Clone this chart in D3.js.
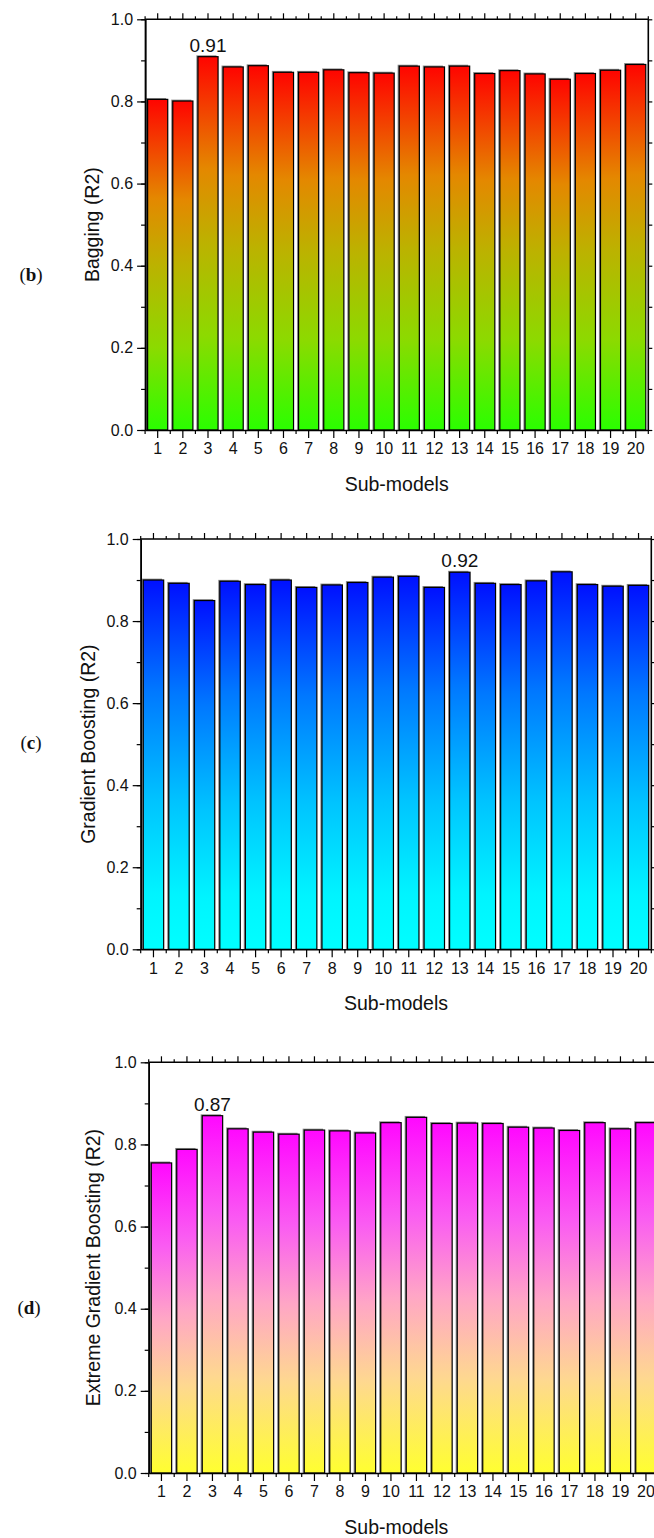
<!DOCTYPE html>
<html>
<head>
<meta charset="utf-8">
<script src="https://cdn.jsdelivr.net/npm/d3@7"></script>
<style>
  html, body { margin: 0; padding: 0; background: #fff; }
  svg { display: block; }
  text { font-family: "Liberation Sans", Arial, sans-serif; fill: #111; }
</style>
</head>
<body>
<div id="chart"></div>
<script>
// ---------------- data ----------------
const subModels = ["1","2","3","4","5","6","7","8","9","10","11","12","13","14","15","16","17","18","19","20"];
const baggingR2 = [0.805,0.801,0.909,0.884,0.887,0.871,0.871,0.877,0.870,0.869,0.886,0.884,0.886,0.868,0.875,0.867,0.854,0.868,0.876,0.890];
const gradBoostR2 = [0.900,0.892,0.850,0.897,0.889,0.900,0.882,0.888,0.894,0.907,0.909,0.882,0.919,0.892,0.889,0.898,0.920,0.889,0.885,0.887];
const xgbR2 = [0.755,0.788,0.870,0.838,0.830,0.825,0.835,0.833,0.828,0.853,0.866,0.851,0.852,0.851,0.842,0.840,0.834,0.853,0.838,0.853];
const yTickValues = [0.0,0.2,0.4,0.6,0.8,1.0];
const yTickLabels = ["0.0","0.2","0.4","0.6","0.8","1.0"];
const panelLetters = ["b","c","d"];
const yTitles = ["Bagging (R2)","Gradient Boosting (R2)","Extreme Gradient Boosting (R2)"];
const xTitle = "Sub-models";
const annotIndex = [2, 12, 2];
const annotText = ["0.91","0.92","0.87"];

// ---------------- layout / style ----------------
const W = 654, H = 1538;
const svg = d3.select("#chart").append("svg").attr("width", W).attr("height", H);
svg.append("rect").attr("width", W).attr("height", H).attr("fill", "#fff");

const layouts = [
  {left:145.1, right:648.3, top:19.3, bottom:430, titleX:92, letterX:31, letterY:281},
  {left:140.7, right:651.3, top:539, bottom:949.3, titleX:88, letterX:31, letterY:749},
  {left:148.7, right:658.7, top:1062.3, bottom:1473, titleX:93, letterX:29, letterY:1314}
];
const gradStops = [
  [[0,"#ff0400"],[0.3,"#e48800"],[0.5,"#bcb200"],[0.75,"#8cda00"],[1,"#2aff00"]],
  [[0,"#0010ff"],[0.3,"#0078ff"],[0.6,"#00c4ff"],[0.85,"#00f4ff"],[1,"#00ffff"]],
  [[0,"#ff08ff"],[0.27,"#fa5cf2"],[0.5,"#ffa6c6"],[0.73,"#fed890"],[1,"#ffff30"]]
];
const seriesList = [baggingR2, gradBoostR2, xgbR2];

const defs = svg.append("defs");

seriesList.forEach((vals, p) => {
  const L = layouts[p];
  const g = svg.append("g");
  const data = subModels.map((c, i) => ({c, v: vals[i]}));

  const x = d3.scaleBand().domain(subModels).range([L.left, L.right])
    .paddingInner(0.2).paddingOuter(0.1);
  const y = d3.scaleLinear().domain([0, 1]).range([L.bottom, L.top]);

  const gid = "grad" + p;
  const lg = defs.append("linearGradient").attr("id", gid)
    .attr("x1", 0).attr("y1", 0).attr("x2", 0).attr("y2", 1);
  gradStops[p].forEach(s => lg.append("stop").attr("offset", s[0]).attr("stop-color", s[1]));

  // shadows
  g.selectAll("rect.sh").data(data).enter().append("rect").attr("class","sh")
    .attr("x", d => x(d.c) - 1.6)
    .attr("y", d => y(d.v) - 1.4)
    .attr("width", x.bandwidth())
    .attr("height", d => y(0) - y(d.v) + 1.4)
    .attr("fill", "#8c8c8c");
  // bars
  g.selectAll("rect.bar").data(data).enter().append("rect").attr("class","bar")
    .attr("x", d => x(d.c))
    .attr("y", d => y(d.v))
    .attr("width", x.bandwidth())
    .attr("height", d => y(0) - y(d.v))
    .attr("fill", `url(#${gid})`)
    .attr("stroke", "#000").attr("stroke-width", 1.2);

  // frame
  const frame = g.append("g");
  frame.append("line").attr("x1", L.left).attr("x2", L.right).attr("y1", L.top).attr("y2", L.top);
  frame.append("line").attr("x1", L.right).attr("x2", L.right).attr("y1", L.top).attr("y2", L.bottom);
  frame.selectAll("line").attr("stroke", "#000").attr("stroke-width", 1.6);

  // left axis: major + minor
  const yMinor = d3.range(0, 11).map(i => i / 10);
  const leftMinor = g.append("g").attr("transform", `translate(${L.left},0)`)
    .call(d3.axisLeft(y).tickValues(yMinor).tickSize(4).tickSizeOuter(0).tickFormat(""));
  const leftAx = g.append("g").attr("transform", `translate(${L.left},0)`)
    .call(d3.axisLeft(y).tickValues(yTickValues).tickSize(8).tickPadding(4).tickSizeOuter(0)
      .tickFormat((d, i) => yTickLabels[i]));
  // right axis ticks
  const rightAx = g.append("g").attr("transform", `translate(${L.right},0)`)
    .call(d3.axisRight(y).tickValues(yMinor).tickSize(4).tickSizeOuter(0).tickFormat(""));

  // bottom axis
  const bottomAx = g.append("g").attr("transform", `translate(0,${L.bottom})`)
    .call(d3.axisBottom(x).tickSize(8).tickPadding(5).tickSizeOuter(0));
  const edges = d3.range(0, subModels.length + 1).map(i => x.range()[0] + i * x.step());
  g.append("g").selectAll("line").data(edges).enter().append("line")
    .attr("x1", d => d).attr("x2", d => d).attr("y1", L.bottom).attr("y2", L.bottom + 4)
    .attr("stroke", "#000").attr("stroke-width", 1.2);
  // top axis
  const topAx = g.append("g").attr("transform", `translate(0,${L.top})`)
    .call(d3.axisTop(x).tickSize(6).tickSizeOuter(0).tickFormat(""));
  g.append("g").selectAll("line").data(edges).enter().append("line")
    .attr("x1", d => d).attr("x2", d => d).attr("y1", L.top).attr("y2", L.top - 3)
    .attr("stroke", "#000").attr("stroke-width", 1.2);

  [leftMinor, leftAx, rightAx, bottomAx, topAx].forEach(a => {
    a.selectAll("path.domain").attr("stroke", "#000").attr("stroke-width", 1.6);
    a.selectAll(".tick line").attr("stroke", "#000").attr("stroke-width", 1.2);
    a.selectAll(".tick text").attr("font-size", 16).attr("fill", "#111")
      .attr("font-family", '"Liberation Sans", Arial, sans-serif');
  });
  topAx.select("path.domain").remove();
  rightAx.select("path.domain").remove();

  // annotation
  const ai = annotIndex[p];
  g.append("text")
    .attr("x", x(subModels[ai]) + x.bandwidth() / 2)
    .attr("y", y(vals[ai]) - 5)
    .attr("text-anchor", "middle").attr("font-size", 19)
    .text(annotText[p]);

  // axis titles
  g.append("text")
    .attr("x", (L.left + Math.min(L.right, W)) / 2 + (p === 2 ? -5 : 0))
    .attr("y", L.bottom + 61)
    .attr("text-anchor", "middle").attr("font-size", 19.5)
    .text(xTitle);
  g.append("text")
    .attr("transform", `translate(${L.titleX + 7},${(L.top + L.bottom) / 2}) rotate(-90)`)
    .attr("text-anchor", "middle").attr("font-size", 19.5)
    .text(yTitles[p]);

  // panel letter
  const lt = g.append("text").attr("x", L.letterX).attr("y", L.letterY)
    .attr("text-anchor", "middle").attr("font-size", 19)
    .style("font-family", '"Liberation Serif", "Times New Roman", serif');
  lt.append("tspan").text("(");
  lt.append("tspan").attr("font-weight", "bold").text(panelLetters[p]);
  lt.append("tspan").text(")");
});
</script>
</body>
</html>
